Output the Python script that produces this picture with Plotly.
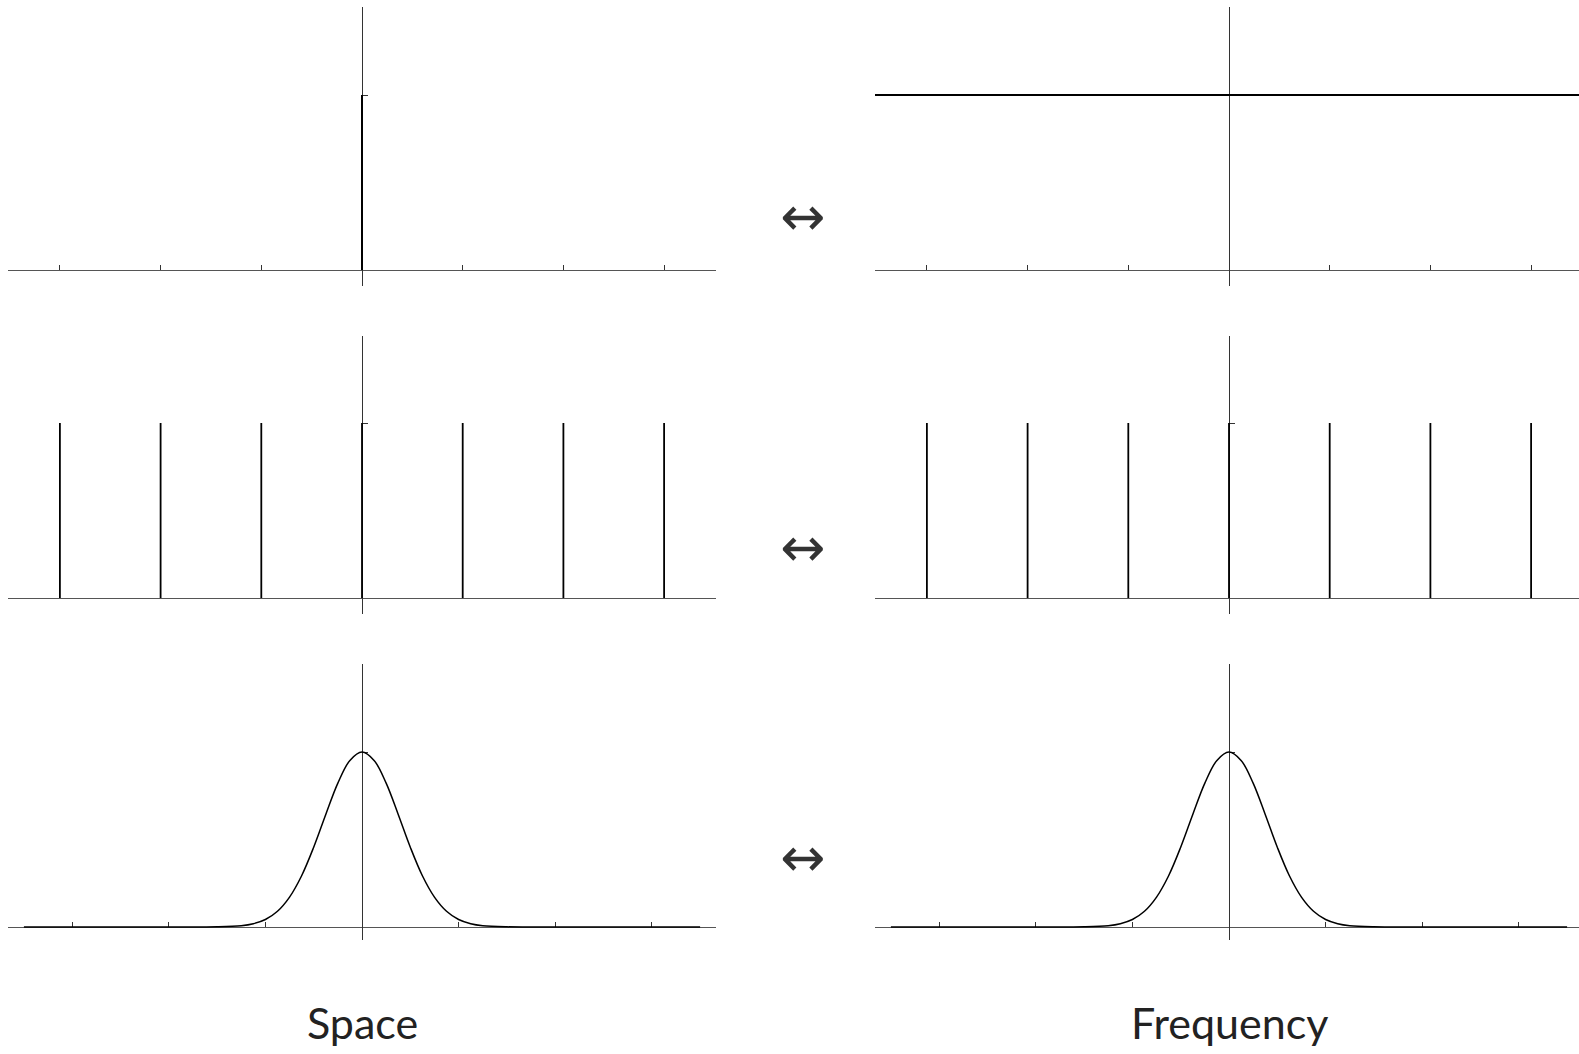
import plotly.graph_objects as go

W, H = 1579, 1054

# data
tick_positions = [-3, -2, -1, 0, 1, 2, 3]

delta_x = [0, 0]
delta_y = [0, 1]

const_x = [-3.6, 3.6]
const_y = [1, 1]

comb_positions = [-3, -2, -1, 0, 1, 2, 3]
comb_heights = [1, 1, 1, 1, 1, 1, 1]

gauss_x = [-3.5, -2.0, -1.75, -1.5, -1.25, -1.125, -1.0, -0.875, -0.75, -0.625, -0.5,
           -0.375, -0.25, -0.125, 0.0, 0.125, 0.25, 0.375, 0.5, 0.625, 0.75, 0.875,
           1.0, 1.125, 1.25, 1.5, 1.75, 2.0, 3.5]
gauss_y = [0, 0, 0.0001, 0.0009, 0.0074, 0.019, 0.043, 0.090, 0.171, 0.293, 0.456,
           0.643, 0.822, 0.952, 1.0, 0.952, 0.822, 0.643, 0.456, 0.293, 0.171, 0.090,
           0.043, 0.019, 0.0074, 0.0009, 0.0001, 0, 0]

column_labels = ["Space", "Frequency"]
pair_symbol = "\u2194"


def comb(positions, heights):
    xs, ys = [], []
    for p, h in zip(positions, heights):
        xs += [p, p, None]
        ys += [0, h, None]
    return xs, ys


comb_x, comb_y = comb(comb_positions, comb_heights)

# pixel geometry of each row: (top, axis, bottom, px per x unit, arrow y)
rows = [(7, 270, 286, 100.7, 216), (336, 598, 614, 100.7, 547), (664, 927, 940, 96.6, 857)]
# columns: (left, right, centre)
cols = [(8, 716, 362), (875, 1579, 1229)]

panels = [
    [(delta_x, delta_y, 2.0), (const_x, const_y, 1.8)],
    [(comb_x, comb_y, 1.8), (comb_x, comb_y, 1.8)],
    [(gauss_x, gauss_y, 1.5), (gauss_x, gauss_y, 1.5)],
]

fig = go.Figure()
layout = {}
n = 0
for r, (top, axis_y, bottom, sx, _) in enumerate(rows):
    sy = 175.0
    for c, (left, right, centre) in enumerate(cols):
        n += 1
        xs, ys, lw = panels[r][c]
        suffix = "" if n == 1 else str(n)
        fig.add_trace(go.Scatter(
            x=xs, y=ys, mode="lines",
            line=dict(color="black", width=lw, shape="spline" if r == 2 else "linear"),
            xaxis="x" + suffix, yaxis="y" + suffix, showlegend=False, hoverinfo="skip",
        ))
        layout["xaxis" + suffix] = dict(
            domain=[left / W, right / W],
            range=[(left - centre) / sx, (right - centre) / sx],
            anchor="free", position=1 - axis_y / H,
            showline=True, linecolor="#555", linewidth=1.2,
            ticks="inside", ticklen=5, tickwidth=1.2, tickcolor="#333",
            tickvals=tick_positions, showticklabels=False,
            showgrid=False, zeroline=False, layer="below traces", fixedrange=True,
        )
        layout["yaxis" + suffix] = dict(
            domain=[1 - bottom / H, 1 - top / H],
            range=[-(bottom - axis_y) / sy, (axis_y - top) / sy],
            anchor="free", position=centre / W,
            showline=True, linecolor="#333", linewidth=1.2,
            ticks="inside", ticklen=5, tickwidth=1.2, tickcolor="#333",
            tickvals=[1], showticklabels=False,
            showgrid=False, zeroline=False, layer="below traces", fixedrange=True,
        )

annotations = []
for row in rows:
    annotations.append(dict(
        x=802 / W, y=1 - row[4] / H, xref="paper", yref="paper",
        text=pair_symbol, showarrow=False, xanchor="center", yanchor="middle",
        font=dict(family="DejaVu Sans", size=54, color="#333"),
    ))
for (left, right, centre), label in zip(cols, column_labels):
    annotations.append(dict(
        x=centre / W, y=1 - 1022 / H, xref="paper", yref="paper",
        text=label, showarrow=False, xanchor="center", yanchor="middle",
        font=dict(family="Lato", size=43, color="#222"),
    ))

fig.update_layout(
    width=W, height=H,
    margin=dict(l=0, r=0, t=0, b=0),
    paper_bgcolor="white", plot_bgcolor="white",
    annotations=annotations,
    **layout,
)

fig.write_html(
    "out.html",
    config={"displayModeBar": False},
    post_script="document.body.style.margin='0px';document.body.style.overflow='hidden';",
)
